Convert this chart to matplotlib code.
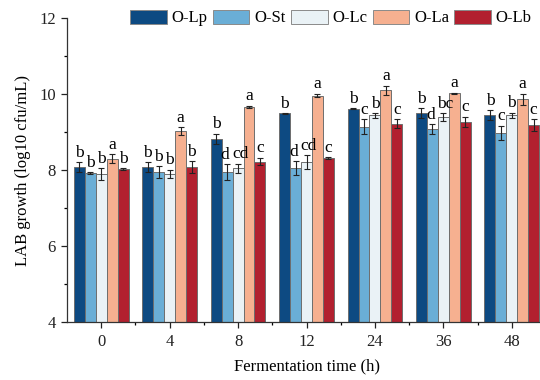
import matplotlib
matplotlib.use("Agg")
import matplotlib.pyplot as plt
import numpy as np

plt.rcParams['font.family'] = ['Liberation Serif', 'DejaVu Serif']

times = ['0', '4', '8', '12', '24', '36', '48']
series = ['O-Lp', 'O-St', 'O-Lc', 'O-La', 'O-Lb']
colors = ['#0d4a82', '#6aaed6', '#eaf2f6', '#f6b090', '#b2202f']

values = {
    'O-Lp': [8.08, 8.07, 8.82, 9.49, 9.61, 9.49, 9.44],
    'O-St': [7.92, 7.95, 7.95, 8.05, 9.14, 9.08, 8.98],
    'O-Lc': [7.90, 7.90, 8.04, 8.21, 9.44, 9.40, 9.44],
    'O-La': [8.30, 9.02, 9.66, 9.96, 10.10, 10.02, 9.86],
    'O-Lb': [8.03, 8.08, 8.22, 8.31, 9.22, 9.27, 9.18],
}
errors = {
    'O-Lp': [0.13, 0.13, 0.14, 0.01, 0.01, 0.13, 0.13],
    'O-St': [0.02, 0.15, 0.21, 0.18, 0.20, 0.12, 0.19],
    'O-Lc': [0.15, 0.11, 0.13, 0.18, 0.06, 0.10, 0.07],
    'O-La': [0.12, 0.10, 0.03, 0.05, 0.12, 0.01, 0.15],
    'O-Lb': [0.02, 0.15, 0.10, 0.03, 0.11, 0.13, 0.15],
}
letters = {
    'O-Lp': ['b', 'b', 'b', 'b', 'b', 'b', 'b'],
    'O-St': ['b', 'b', 'd', 'd', 'c', 'd', 'c'],
    'O-Lc': ['b', 'b', 'cd', 'cd', 'b', 'bc', 'b'],
    'O-La': ['a', 'a', 'a', 'a', 'a', 'a', 'a'],
    'O-Lb': ['b', 'b', 'c', 'c', 'c', 'c', 'c'],
}

fig = plt.figure(figsize=(5.4, 3.8), dpi=100)
ax = fig.add_axes([67/540, 58/380, 479/540, 304/380])

x = np.arange(len(times))
w = 0.16
for i, s in enumerate(series):
    pos = x + (i - 2) * w
    ax.bar(pos, values[s], w, bottom=0, color=colors[i], edgecolor='#6e6e6e',
           linewidth=0.7, label=s, zorder=2)
    ax.errorbar(pos, values[s], yerr=errors[s], fmt='none', ecolor='#222222',
                elinewidth=0.8, capsize=2.5, capthick=0.8, zorder=3)
    for j, (xp, v, e, t) in enumerate(zip(pos, values[s], errors[s], letters[s])):
        dx = 0
        if len(t) > 1:
            dx = 1.5
        elif i + 1 < len(series) and len(letters[series[i + 1]][j]) > 1:
            dx = -1.5
        ax.annotate(t, (xp, v + e), xytext=(dx, 1), textcoords='offset points',
                    ha='center', va='bottom', fontsize=12.5, zorder=4)

ax.set_ylim(4, 12)
ax.set_xlim(-0.5, 6.5)
ax.set_yticks([4, 6, 8, 10, 12])
ax.set_yticks([5, 7, 9, 11], minor=True)
ax.set_xticks(x)
ax.set_xticklabels(times)
ax.set_xticks(x[:-1] + 0.5, minor=True)
ax.tick_params(axis='both', which='major', direction='out', length=4, width=0.9,
               labelsize=12, colors='#222222', pad=4)
ax.tick_params(axis='x', which='major', pad=5)
ax.tick_params(axis='both', which='minor', direction='out', length=2.5, width=0.9)
for side in ['top', 'right']:
    ax.spines[side].set_visible(False)
for side in ['left', 'bottom']:
    ax.spines[side].set_color('#333333')
    ax.spines[side].set_linewidth(0.9)

ax.set_xlabel('Fermentation time (h)', fontsize=12, labelpad=6)
ax.set_ylabel('LAB growth (log10 cfu/mL)', fontsize=12, labelpad=6)

leg = ax.legend(loc='center', bbox_to_anchor=((331 - 67) / 479, 1.0),
                ncol=5, frameon=False, fontsize=12, handlelength=2.2,
                handleheight=0.95, handletextpad=0.3, columnspacing=0.3,
                borderaxespad=0)
for h in leg.legend_handles:
    h.set_edgecolor('#8a8a8a')

fig.savefig('out.png', dpi=100)
